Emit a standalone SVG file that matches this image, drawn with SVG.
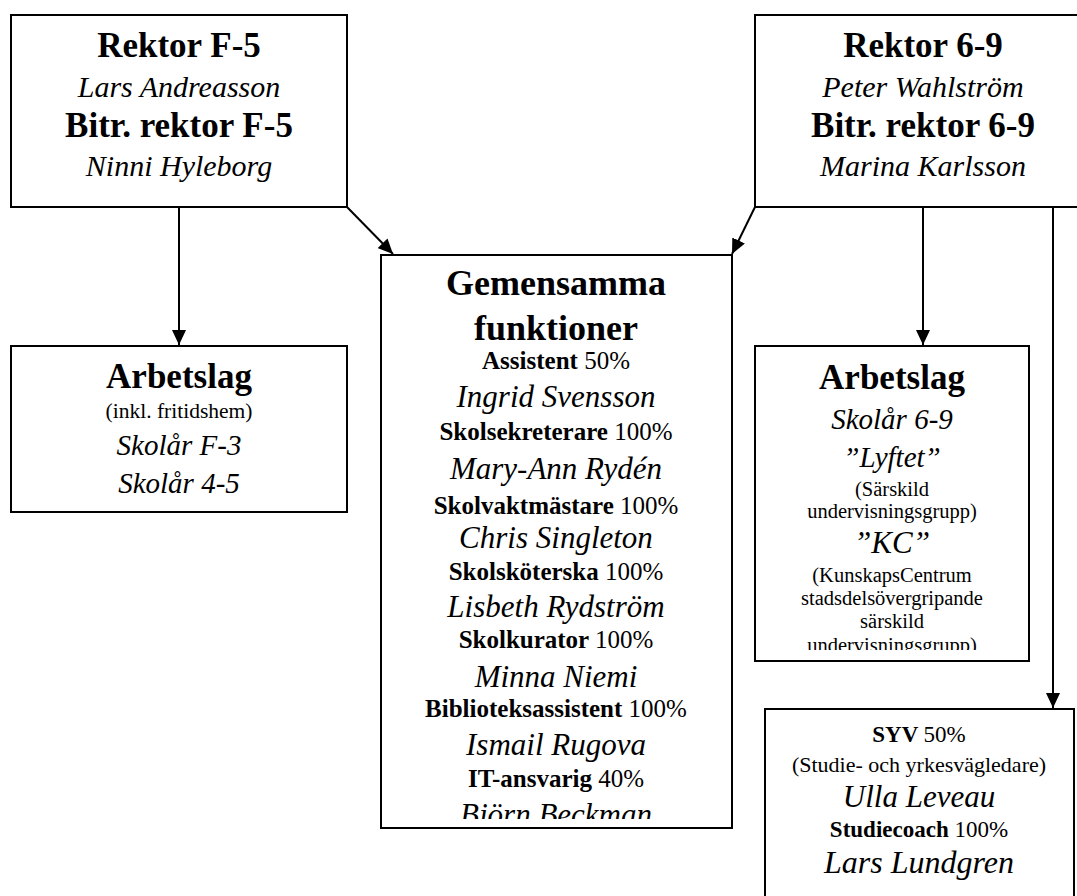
<svg xmlns="http://www.w3.org/2000/svg" width="1077" height="896" viewBox="0 0 1077 896">
<style>
.box{fill:#fff;stroke:#000;stroke-width:2}
text{font-family:"Liberation Serif","Times New Roman",serif;fill:#000;text-anchor:middle}
.h{font-weight:bold;font-size:35px}
.n{font-style:italic;font-size:30px}
.r{font-weight:bold;font-size:25px}
.p{font-weight:normal;font-size:25px}
.nm{font-style:italic;font-size:31px}
.s{font-size:20.5px}
.c{fill:none;stroke:#000;stroke-width:2}
</style>
<defs>
<marker id="ah" markerUnits="userSpaceOnUse" markerWidth="16" markerHeight="14" refX="15" refY="7" orient="auto">
<path d="M0,0 L15,7 L0,14 Z" fill="#000"/>
</marker>
<clipPath id="cg"><rect x="381" y="255" width="351" height="564"/></clipPath>
<clipPath id="ca"><rect x="755" y="346" width="274" height="304"/></clipPath>
</defs>
<rect width="1077" height="896" fill="#fff"/>
<g id="connectors">
<line class="c" x1="179" y1="207" x2="179" y2="345" marker-end="url(#ah)"/>
<line class="c" x1="347" y1="207" x2="393" y2="254" marker-end="url(#ah)"/>
<line class="c" x1="755" y1="207" x2="732" y2="254" marker-end="url(#ah)"/>
<line class="c" x1="923" y1="207" x2="923" y2="345" marker-end="url(#ah)"/>
<line class="c" x1="1053" y1="205" x2="1053" y2="708" marker-end="url(#ah)"/>
</g>
<g id="rektor-f5">
<rect class="box" x="11" y="15" width="336" height="192"/>
<text class="h" x="179" y="57">Rektor F-5</text>
<text class="n" x="179" y="97">Lars Andreasson</text>
<text class="h" x="179" y="137">Bitr. rektor F-5</text>
<text class="n" x="179" y="176">Ninni Hyleborg</text>
</g>
<g id="rektor-69">
<rect class="box" x="755" y="15" width="336" height="192"/>
<text class="h" x="923" y="57">Rektor 6-9</text>
<text class="n" x="923" y="97">Peter Wahlström</text>
<text class="h" x="923" y="137">Bitr. rektor 6-9</text>
<text class="n" x="923" y="176">Marina Karlsson</text>
</g>
<g id="arbetslag-f5">
<rect class="box" x="11" y="346" width="336" height="166"/>
<text class="h" x="179" y="388">Arbetslag</text>
<text class="s" x="179" y="418" style="font-size:21.5px">(inkl. fritidshem)</text>
<text class="n" x="179" y="455" style="font-size:29px">Skolår F-3</text>
<text class="n" x="179" y="493" style="font-size:29px">Skolår 4-5</text>
</g>
<g id="gemensamma">
<rect class="box" x="381" y="255" width="351" height="573"/>
<g clip-path="url(#cg)">
<text class="h" x="556" y="295" style="font-size:36px">Gemensamma</text>
<text class="h" x="556" y="340" style="font-size:36px">funktioner</text>
<text class="r" x="556" y="369">Assistent <tspan class="p">50%</tspan></text>
<text class="nm" x="556" y="407">Ingrid Svensson</text>
<text class="r" x="556" y="440">Skolsekreterare <tspan class="p">100%</tspan></text>
<text class="nm" x="556" y="479">Mary-Ann Rydén</text>
<text class="r" x="556" y="514">Skolvaktmästare <tspan class="p">100%</tspan></text>
<text class="nm" x="556" y="548">Chris Singleton</text>
<text class="r" x="556" y="580">Skolsköterska <tspan class="p">100%</tspan></text>
<text class="nm" x="556" y="617">Lisbeth Rydström</text>
<text class="r" x="556" y="648">Skolkurator <tspan class="p">100%</tspan></text>
<text class="nm" x="556" y="687">Minna Niemi</text>
<text class="r" x="556" y="717">Biblioteksassistent <tspan class="p">100%</tspan></text>
<text class="nm" x="556" y="755">Ismail Rugova</text>
<text class="r" x="556" y="787">IT-ansvarig <tspan class="p">40%</tspan></text>
<text class="nm" x="556" y="825">Björn Beckman</text>
</g>
</g>
<g id="arbetslag-69">
<rect class="box" x="755" y="346" width="274" height="315"/>
<g clip-path="url(#ca)">
<text class="h" x="892" y="389">Arbetslag</text>
<text class="n" x="892" y="429" style="font-size:29px">Skolår 6-9</text>
<text class="n" x="892" y="467" style="font-size:29px">”Lyftet”</text>
<text class="s" x="892" y="496">(Särskild</text>
<text class="s" x="892" y="518">undervisningsgrupp)</text>
<text class="n" x="892" y="553" style="font-size:31px">”KC”</text>
<text class="s" x="892" y="582">(KunskapsCentrum</text>
<text class="s" x="892" y="605">stadsdelsövergripande</text>
<text class="s" x="892" y="628">särskild</text>
<text class="s" x="892" y="652">undervisningsgrupp)</text>
</g>
</g>
<g id="syv">
<rect class="box" x="765" y="709" width="309" height="200"/>
<text class="r" x="919" y="742" style="font-size:23px">SYV <tspan class="p" style="font-size:23px">50%</tspan></text>
<text class="s" x="919" y="772" style="font-size:22px">(Studie- och yrkesvägledare)</text>
<text class="nm" x="919" y="807">Ulla Leveau</text>
<text class="r" x="919" y="837" style="font-size:23px">Studiecoach <tspan class="p" style="font-size:23px">100%</tspan></text>
<text class="nm" x="919" y="873" style="font-size:32px">Lars Lundgren</text>
</g>
</svg>
